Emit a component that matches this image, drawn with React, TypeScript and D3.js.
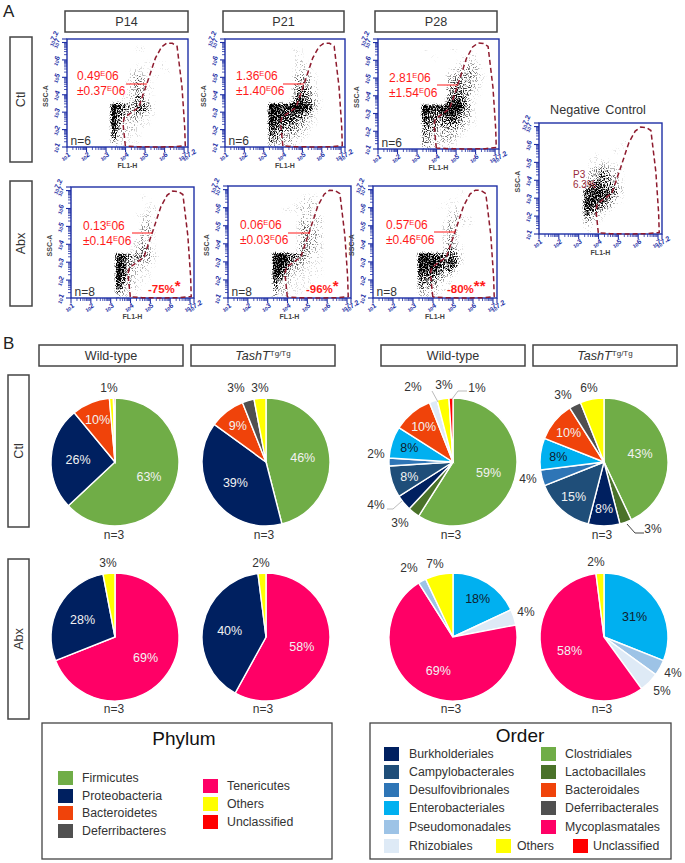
import * as d3 from 'd3';

const FONT = '"Liberation Sans", Arial, sans-serif';

// flow panels: density, rows top (10^7.25) to bottom (10^1), columns from 10^3.25 in 0.25 decade steps
const ctlP14 = [
  '00000000000000', '00000000000000', '00000110000000', '00000000000000', '00000000000000',
  '00000001001000', '00000110101000', '00001211000100', '00012320010000', '00012431100000',
  '00012431000000', '00013431100000', '00012431100000', '00113541000000', '01123542100000',
  '98654665100000', '97644664100000', '96543431100000', '96433311000000', '96322211000000',
  '85222110000000', '74221100000000', '63211100000000', '42111100000000', '21100000000000',
];
const ctlP21 = [
  '00000000000000', '00000000000000', '00000110000000', '00000110000000', '00000110000000',
  '00000121000000', '00000122100000', '00000122100000', '00000233210000', '00000344310000',
  '00000344310000', '00000455420000', '00000465420000', '00000576421000', '00001687531000',
  '99888999731000', '99878998621000', '98887765410000', '98877654210000', '98766543110000',
  '87655433100000', '76544332100000', '65433321000000', '54333210000000', '33222100000000',
];
const ctlP28 = [
  '00000000000000', '00000000000000', '10000010000000', '00000000001000', '00100000112000',
  '00000001122100', '00000012233200', '00000123344200', '00000233443210', '00000344433210',
  '00000345443200', '00000455442100', '00000466541100', '00000577531000', '00000789631000',
  '98888999741000', '98779998531000', '87667886431000', '76656775321000', '66545554311000',
  '55434443210000', '54333332100000', '43323321000000', '43222210000000', '33211110000000',
];
const abxP14 = [
  '00000000000000', '00000000000000', '00000100000000', '00000001000000', '00000011000000',
  '00000012000000', '00001121000000', '00000221000000', '00000231000000', '00000331000000',
  '00000231000000', '00001321000000', '00012320000000', '00012431000000', '00013431000000',
  '88545442100000', '98544331000000', '98433221000000', '98432210000000', '98322110000000',
  '97321110000000', '86321100000000', '75221000000000', '53211000000000', '32100000000000',
];
const abxP21 = [
  '00000000000000', '00000000000000', '00000011100000', '00000122100000', '00001122200000',
  '00111222100000', '00000122110000', '00000232220000', '00000232220000', '00000243220000',
  '00000243320000', '00000243320000', '00000243310000', '00000343320000', '00000343210000',
  '99976542210000', '99965432110000', '99854321110000', '99743211110000', '98532211110000',
  '86321111100000', '64221111000000', '53211110000000', '42211100000000', '32110000000000',
];
const abxP28 = [
  '00000000000000', '00000000100000', '00000000000000', '00000011000000', '00001101000000',
  '00000012000000', '00000022000000', '00000023211000', '00000232211000', '00000231000000',
  '00000132000000', '00000232000000', '00000242000000', '00000252100000', '00000363100000',
  '99877565200000', '99887686200000', '98987686100000', '98886573000000', '87775331000000',
  '76654210000000', '65542110000000', '54431100000000', '33221100000000', '22110000000000',
];
const negative = [
  '00000000000000', '00000000000000', '00000000000000', '00000000000000', '00000000100000',
  '00000001000000', '00000010000000', '00100000000000', '01111000000000', '01122110000000',
  '02344221000000', '13455331000000', '13465431000000', '35665531000000', '57776542000000',
  '78887652000000', '78887531000000', '88776421000000', '88765310000000', '77542100000000',
  '65321000000000', '43210000000000', '32100000000000', '11000000000000', '01000000000000',
];

// gate outline in decades (FL1-H, SSC-A)
const gateX = [3.99, 3.87, 3.94, 4.67, 5.1, 5.53, 5.85, 6.12, 6.4, 6.64, 6.89, 7.03, 7.06, 6.5, 5.6, 4.6, 3.99];
const gateY = [1.06, 2.35, 2.69, 3.27, 4.66, 6.1, 6.75, 6.97, 6.95, 6.78, 4.47, 2.16, 1.08, 1.02, 1.0, 1.02, 1.06];

const mainTicks = [1, 2, 3, 4, 5, 6, 7];
const minorSteps = [2, 3, 4, 5, 6, 7, 8, 9];

// abundance tables
const phylumColors: Record<string, string> = {
  Firmicutes: '#70AD47', Proteobacteria: '#002060', Bacteroidetes: '#F0430A', Deferribacteres: '#505050',
  Tenericutes: '#FF0066', Others: '#FFFF00', Unclassified: '#FF0000',
};
const orderColors: Record<string, string> = {
  Burkholderiales: '#002060', Campylobacterales: '#1F4E79', Desulfovibrionales: '#2E75B6', Enterobacteriales: '#00B0F0',
  Pseudomonadales: '#9DC3E6', Rhizobiales: '#DEEAF6', Clostridiales: '#70AD47', Lactobacillales: '#4A7229',
  Bacteroidales: '#F0430A', Deferribacterales: '#505050', Mycoplasmatales: '#FF0066', Others: '#FFFF00', Unclassified: '#FF0000',
};

const phyCtlWtNames = ['Firmicutes', 'Proteobacteria', 'Bacteroidetes', 'Others', 'Unclassified'];
const phyCtlWtValues = [63, 26, 9.6, 1, 0.4];
const phyCtlTgNames = ['Firmicutes', 'Proteobacteria', 'Bacteroidetes', 'Deferribacteres', 'Others'];
const phyCtlTgValues = [46, 39, 9, 3, 3];
const phyAbxWtNames = ['Tenericutes', 'Proteobacteria', 'Others'];
const phyAbxWtValues = [69, 28, 3];
const phyAbxTgNames = ['Tenericutes', 'Proteobacteria', 'Others'];
const phyAbxTgValues = [58, 40, 2];
const ordCtlWtNames = ['Clostridiales', 'Lactobacillales', 'Burkholderiales', 'Campylobacterales', 'Desulfovibrionales', 'Enterobacteriales', 'Bacteroidales', 'Rhizobiales', 'Others', 'Unclassified'];
const ordCtlWtValues = [59, 3, 4, 8, 2, 8, 10, 2, 3, 1];
const ordCtlTgNames = ['Clostridiales', 'Lactobacillales', 'Burkholderiales', 'Campylobacterales', 'Desulfovibrionales', 'Enterobacteriales', 'Bacteroidales', 'Deferribacterales', 'Others'];
const ordCtlTgValues = [43, 3, 8, 15, 4, 8, 10, 3, 6];
const ordAbxWtNames = ['Enterobacteriales', 'Rhizobiales', 'Mycoplasmatales', 'Pseudomonadales', 'Others'];
const ordAbxWtValues = [18, 4, 69, 2, 7];
const ordAbxTgNames = ['Enterobacteriales', 'Pseudomonadales', 'Rhizobiales', 'Mycoplasmatales', 'Others'];
const ordAbxTgValues = [31, 4, 5, 58, 2];

const phylumLegendA = ['Firmicutes', 'Proteobacteria', 'Bacteroidetes', 'Deferribacteres'];
const phylumLegendB = ['Tenericutes', 'Others', 'Unclassified'];
const orderLegendA = ['Burkholderiales', 'Campylobacterales', 'Desulfovibrionales', 'Enterobacteriales', 'Pseudomonadales', 'Rhizobiales'];
const orderLegendB = ['Clostridiales', 'Lactobacillales', 'Bacteroidales', 'Deferribacterales', 'Mycoplasmatales'];

function LabelBox({ x, y, w, h, children, rotate }: any) {
  const cx = x + w / 2;
  const cy = y + h / 2;
  return (
    <g>
      <rect x={x} y={y} width={w} height={h} fill="#fff" stroke="#444" strokeWidth={1.5} />
      <text
        x={rotate ? cx + 4 : cx}
        y={rotate ? cy : cy + 4.5}
        textAnchor="middle"
        fontSize={12.6}
        fill="#333"
        transform={rotate ? `rotate(-90 ${cx + 4} ${cy})` : undefined}
      >
        {children}
      </text>
    </g>
  );
}

function FlowPanel({ grid, x0, x1, y0, y1, mean, sd, n, drop, stars, tx, ty, lead, dropX, negativeCtl }: any) {
  const xScale = d3.scaleLinear().domain([1, 7.2]).range([x0, x1]);
  const yScale = d3.scaleLinear().domain([1, 7.2]).range([y1, y0]);
  const gate = d3.line<number>().x(i => xScale(gateX[i])).y(i => yScale(gateY[i]));
  const minor = mainTicks.flatMap(t => minorSteps.map(k => t + Math.log10(k))).filter(v => v < 7.2);
  const axisBlue = '#1E2FA5';
  const tickLabels = [...mainTicks, 7.2];

  return (
    <g fontFamily={FONT}>
      <g filter="url(#stipple)">
        {grid.map((row: string, r: number) =>
          row.split('').map((c, i) => (
            <rect
              key={`${r}-${i}`}
              x={xScale(3.25 + i * 0.25)}
              y={yScale(7.25 - r * 0.25)}
              width={xScale(3.5) - xScale(3.25) + 0.3}
              height={yScale(3) - yScale(3.25) + 0.3}
              fill="#000"
              fillOpacity={Math.pow(+c / 9, 1.3)}
            />
          ))
        )}
      </g>

      {/* axes */}
      {minor.map((v, i) => (
        <g key={i} stroke={axisBlue} strokeWidth={0.8}>
          <line x1={xScale(v)} x2={xScale(v)} y1={y1} y2={y1 + 3} />
          <line x1={x0} x2={x0 - 3} y1={yScale(v)} y2={yScale(v)} />
        </g>
      ))}
      {tickLabels.map(t => (
        <g key={t}>
          <g stroke={axisBlue} strokeWidth={1.1}>
            <line x1={xScale(t)} x2={xScale(t)} y1={y1} y2={y1 + 5} />
            <line x1={x0} x2={x0 - 5} y1={yScale(t)} y2={yScale(t)} />
          </g>
          <text x={xScale(t) + (t === 7.2 ? 3 : 0)} y={y1 + 12} textAnchor="middle" fontSize={5} fontWeight="bold" fill={axisBlue}
            transform={`rotate(-30 ${xScale(t)} ${y1 + 12})`}>
            10<tspan fontSize={7} dy={-1}>{t}</tspan>
          </text>
          <text x={x0 - 8} y={yScale(t) + (t === 7.2 ? -1 : 2)} textAnchor="middle" fontSize={5} fontWeight="bold" fill={axisBlue}
            transform={`rotate(-65 ${x0 - 8} ${yScale(t) + 2})`}>
            10<tspan fontSize={7} dy={-1}>{t}</tspan>
          </text>
        </g>
      ))}
      <rect x={x0} y={y0} width={x1 - x0} height={y1 - y0} fill="none" stroke={axisBlue} strokeWidth={1.4} />
      <text x={(x0 + x1) / 2} y={y1 + 21} textAnchor="middle" fontSize={7} fontWeight="bold" fill="#444">FL1-H</text>
      <text x={x0 - 19} y={(y0 + y1) / 2 + 3} textAnchor="middle" fontSize={7} fontWeight="bold" fill="#444"
        transform={`rotate(-90 ${x0 - 19} ${(y0 + y1) / 2 + 3})`}>SSC-A</text>

      <path d={gate(d3.range(gateX.length))!} fill="none" stroke="#8E1B2E" strokeWidth={1.5} strokeDasharray="5 3" />

      {negativeCtl ? (
        <g fill="#9A2A3A" fontSize={10}>
          <text x={x0 + 34} y={y0 + 55}>P3</text>
          <text x={x0 + 34} y={y0 + 65}>6.3%</text>
        </g>
      ) : (
        <g>
          <g fill="#FF1A1A" fontSize={12}>
            <text x={tx} y={ty}>
              {mean}<tspan fontSize={7.5} dy={-4}>E</tspan><tspan dy={4}>06</tspan>
            </text>
            <text x={tx} y={ty + 15}>
              ±{sd}<tspan fontSize={7.5} dy={-4}>E</tspan><tspan dy={4}>06</tspan>
            </text>
          </g>
          <line x1={lead[0]} x2={lead[1]} y1={lead[2]} y2={lead[2]} stroke="#FF1A1A" strokeWidth={1} />
          <text x={x0 + 3.5} y={y1 - 2.5} fontSize={12} fill="#333">n={n}</text>
          {drop && (
            <text x={dropX} y={y1 - 5} fontSize={11.5} fontWeight="bold" fill="#FF1A1A">
              {drop}<tspan fontSize={15} dy={-2}>{stars}</tspan>
            </text>
          )}
        </g>
      )}
    </g>
  );
}

function Pie({ cx, cy, names, values, colors, nX, nY }: any) {
  const r = 64;
  const arcs = d3.pie<number>().sort(null)(values);
  const arc = d3.arc<d3.PieArcDatum<number>>().innerRadius(0).outerRadius(r);
  const labelArc = (d: d3.PieArcDatum<number>) => {
    const lr = d.value >= 20 ? 37 : 46;
    return d3.arc<d3.PieArcDatum<number>>().innerRadius(lr).outerRadius(lr).centroid(d);
  };
  return (
    <g transform={`translate(${cx},${cy})`} fontFamily={FONT}>
      {arcs.map((d, i) => (
        <path key={i} d={arc(d)!} fill={colors[names[i]]} stroke="#fff" strokeWidth={1.4} />
      ))}
      {arcs.map((d, i) => {
        if (d.value < 7.5) return null;
        const [px, py] = labelArc(d);
        const isDark = names[i] === 'Enterobacteriales';
        return (
          <text key={i} x={px} y={py + 4.5} textAnchor="middle" fontSize={12.5} fill={isDark ? '#10202E' : '#F2F2F2'}>
            {Math.round(d.value)}%
          </text>
        );
      })}
      <text x={nX - cx} y={nY - cy} textAnchor="middle" fontSize={12} fill="#333">n=3</text>
    </g>
  );
}

function OutLabel({ x, y, t }: { x: number; y: number; t: string }) {
  return <text x={x} y={y} textAnchor="middle" fontSize={12} fill="#333" fontFamily={FONT}>{t}</text>;
}

function Legend({ names, colors, sx, tx, ys }: any) {
  return (
    <g fontFamily={FONT}>
      {names.map((name: string, i: number) => (
        <g key={name}>
          <rect x={sx} y={ys[i] - 7} width={15} height={14} fill={colors[name]} />
          <text x={tx} y={ys[i] + 4} fontSize={12.3} fill="#333">{name}</text>
        </g>
      ))}
    </g>
  );
}

function TashLabel() {
  return (
    <>
      <tspan fontStyle="italic">TashT</tspan>
      <tspan fontSize={8} dy={-4}>Tg/Tg</tspan>
    </>
  );
}

export default function App() {
  return (
    <svg width={685} height={863} style={{ position: 'absolute', left: 0, top: 0, display: 'block' }} fontFamily={FONT}>
      <defs>
        <filter id="stipple" x="-5%" y="-5%" width="110%" height="110%" colorInterpolationFilters="sRGB">
          <feGaussianBlur in="SourceGraphic" stdDeviation={1.1} result="d" />
          <feTurbulence type="fractalNoise" baseFrequency={0.85} numOctaves={1} seed={4} result="t" />
          <feColorMatrix in="t" type="matrix" values="0 0 0 0 0  0 0 0 0 0  0 0 0 0 0  4 0 0 0 -1.5" result="n" />
          <feComposite in="d" in2="n" operator="arithmetic" k1={0} k2={2} k3={1.5} k4={-1.5} result="s" />
          <feGaussianBlur in="s" stdDeviation={0.35} />
        </filter>
      </defs>

      <text x={3} y={17} fontSize={17} fill="#222">A</text>
      <text x={3} y={349} fontSize={17} fill="#222">B</text>

      <LabelBox x={65} y={11} w={123} h={21}>P14</LabelBox>
      <LabelBox x={223} y={11} w={121} h={21}>P21</LabelBox>
      <LabelBox x={375} y={11} w={122} h={21}>P28</LabelBox>
      <LabelBox x={10} y={37} w={22} h={125} rotate>Ctl</LabelBox>
      <LabelBox x={10} y={181} w={22} h={125} rotate>Abx</LabelBox>

      <FlowPanel grid={ctlP14} x0={67} x1={188} y0={39} y1={147} mean="0.49" sd="0.37" n={6} tx={77} ty={80} lead={[126, 147, 84]} />
      <FlowPanel grid={ctlP21} x0={225} x1={345} y0={39} y1={147} mean="1.36" sd="1.40" n={6} tx={236} ty={80} lead={[283, 304, 84]} />
      <FlowPanel grid={ctlP28} x0={378} x1={499} y0={39} y1={149} mean="2.81" sd="1.54" n={6} tx={389} ty={82} lead={[437, 458, 85]} />
      <FlowPanel grid={abxP14} x0={71} x1={194} y0={187} y1={298} mean="0.13" sd="0.14" n={8} tx={83} ty={230} lead={[132, 152, 233]} drop="-75%" stars="*" dropX={148} />
      <FlowPanel grid={abxP21} x0={228} x1={351} y0={186} y1={298} mean="0.06" sd="0.03" n={8} tx={240} ty={229} lead={[288, 310, 233]} drop="-96%" stars="*" dropX={306} />
      <FlowPanel grid={abxP28} x0={373} x1={497} y0={186} y1={298} mean="0.57" sd="0.46" n={8} tx={386} ty={229} lead={[434, 455, 232]} drop="-80%" stars="**" dropX={447} />
      <FlowPanel grid={negative} x0={539} x1={662} y0={123} y1={234} negativeCtl />
      <text x={598} y={114} textAnchor="middle" fontSize={12.6} fill="#333" wordSpacing={2}>Negative Control</text>

      <LabelBox x={39} y={345} w={144} h={21}>Wild-type</LabelBox>
      <LabelBox x={191} y={345} w={144} h={21}><TashLabel /></LabelBox>
      <LabelBox x={381} y={345} w={144} h={21}>Wild-type</LabelBox>
      <LabelBox x={533} y={345} w={144} h={21}><TashLabel /></LabelBox>
      <LabelBox x={8} y={375} w={21} h={152} rotate>Ctl</LabelBox>
      <LabelBox x={8} y={559} w={21} h={160} rotate>Abx</LabelBox>

      <Pie cx={115} cy={462} names={phyCtlWtNames} values={phyCtlWtValues} colors={phylumColors} nX={114} nY={539} />
      <Pie cx={266} cy={462} names={phyCtlTgNames} values={phyCtlTgValues} colors={phylumColors} nX={264} nY={539} />
      <Pie cx={453} cy={462} names={ordCtlWtNames} values={ordCtlWtValues} colors={orderColors} nX={451} nY={539} />
      <Pie cx={604} cy={462} names={ordCtlTgNames} values={ordCtlTgValues} colors={orderColors} nX={602} nY={539} />
      <Pie cx={115} cy={637} names={phyAbxWtNames} values={phyAbxWtValues} colors={phylumColors} nX={114} nY={713} />
      <Pie cx={266} cy={637} names={phyAbxTgNames} values={phyAbxTgValues} colors={phylumColors} nX={263} nY={713} />
      <Pie cx={453} cy={637} names={ordAbxWtNames} values={ordAbxWtValues} colors={orderColors} nX={451} nY={713} />
      <Pie cx={604} cy={637} names={ordAbxTgNames} values={ordAbxTgValues} colors={orderColors} nX={602} nY={713} />

      <OutLabel x={109} y={392} t="1%" />
      <OutLabel x={236} y={392} t="3%" />
      <OutLabel x={260} y={392} t="3%" />
      <OutLabel x={413} y={391} t="2%" />
      <OutLabel x={444} y={389} t="3%" />
      <OutLabel x={477} y={392} t="1%" />
      <OutLabel x={376} y={458} t="2%" />
      <OutLabel x={376} y={509} t="4%" />
      <OutLabel x={400} y={527} t="3%" />
      <OutLabel x={589} y={392} t="6%" />
      <OutLabel x={563} y={399} t="3%" />
      <OutLabel x={528} y={483} t="4%" />
      <OutLabel x={653} y={533} t="3%" />
      <OutLabel x={108} y={567} t="3%" />
      <OutLabel x={261} y={567} t="2%" />
      <OutLabel x={409} y={572} t="2%" />
      <OutLabel x={435} y={568} t="7%" />
      <OutLabel x={526} y={616} t="4%" />
      <OutLabel x={596} y={566} t="2%" />
      <OutLabel x={673} y={677} t="4%" />
      <OutLabel x={662} y={695} t="5%" />

      {/* leader lines */}
      <g fill="none" stroke="#BBB" strokeWidth={1}>
        <polyline points="432,391 438,402" />
        <polyline points="467,391 458,391 452,399" />
        <polyline points="387,509 393,509 402,501" />
      </g>
      <polyline points="627,524 635,533 644,533" fill="none" stroke="#444" strokeWidth={1} />

      <rect x={42} y={723} width={290} height={136} fill="#fff" stroke="#444" strokeWidth={1.3} />
      <rect x={370} y={723} width={301} height={136} fill="#fff" stroke="#444" strokeWidth={1.3} />
      <text x={184} y={745} textAnchor="middle" fontSize={19} fill="#111">Phylum</text>
      <text x={520} y={742} textAnchor="middle" fontSize={19} fill="#111">Order</text>

      <Legend names={phylumLegendA} colors={phylumColors} sx={58} tx={82} ys={[778, 796, 813, 831]} />
      <Legend names={phylumLegendB} colors={phylumColors} sx={203} tx={227} ys={[786, 804, 822]} />
      <Legend names={orderLegendA} colors={orderColors} sx={384} tx={409} ys={[754, 772, 790, 808, 827, 846]} />
      <Legend names={orderLegendB} colors={orderColors} sx={541} tx={565} ys={[754, 772, 790, 808, 827]} />
      <Legend names={['Others']} colors={orderColors} sx={496} tx={517} ys={[846]} />
      <Legend names={['Unclassified']} colors={orderColors} sx={573} tx={593} ys={[846]} />
    </svg>
  );
}
